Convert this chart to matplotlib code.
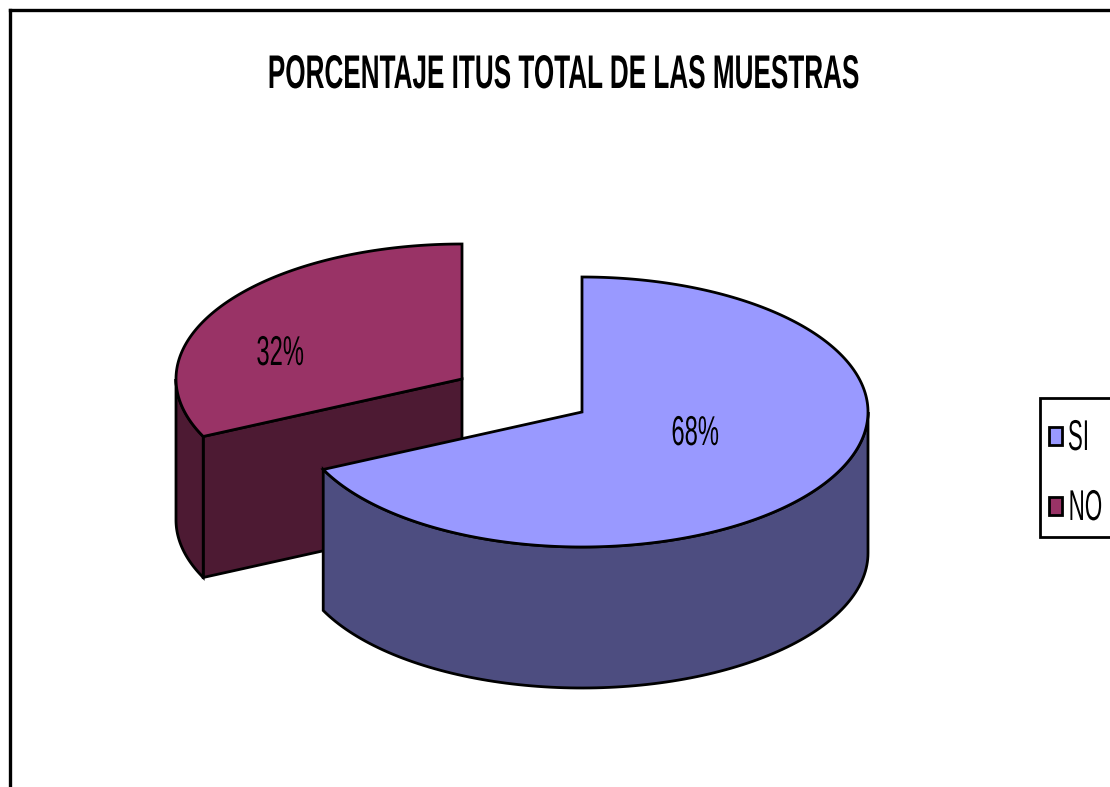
import numpy as np
import matplotlib
matplotlib.use("Agg")
import matplotlib.pyplot as plt
from matplotlib.patches import Polygon, Rectangle
from matplotlib.patheffects import AbstractPathEffect
from matplotlib.text import Text
from matplotlib.transforms import Affine2D

plt.rcParams['font.family'] = ['Liberation Sans', 'DejaVu Sans']

title = "PORCENTAJE ITUS TOTAL DE LAS MUESTRAS"
categories = ["SI", "NO"]
values = [68, 32]
top_colors = ["#9999FF", "#993366"]
side_colors = ["#4D4D80", "#4D1A33"]

RX, RY, DEPTH = 286, 135, 141
CENTERS = [(582, 412), (462, 379)]
LABEL_POS = [(695.5, 434), (280.5, 354)]
LEGEND_RIGHT = [1091, 1103]
PIVOT = {"center": 0.5, "right": 1.0}


class Squeeze(AbstractPathEffect):
    """Narrows the glyphs horizontally about a pivot, as in the condensed reference lettering."""
    def __init__(self, sx, frac):
        super().__init__()
        self.sx = sx
        self.frac = frac

    def draw_path(self, renderer, gc, tpath, affine, rgbFace=None):
        p = self.frac * tpath.get_extents().x1
        squeeze = Affine2D().translate(-p, 0).scale(self.sx, 1).translate(p, 0)
        renderer.draw_path(gc, tpath, squeeze + affine, rgbFace)


def narrow_text(x, y, s, sx, ha="center", **kw):
    t = Text(x, y, s, ha=ha, va="center", color="black", **kw)
    t.set_path_effects([Squeeze(sx, PIVOT[ha])])
    ax.add_artist(t)
    return t


fig = plt.figure(figsize=(11.10, 7.87), dpi=100)
ax = fig.add_axes([0, 0, 1, 1])
ax.set_xlim(0, 1110)
ax.set_ylim(787, 0)
ax.axis("off")


def pt(c, t, dz=0):
    return np.c_[c[0] + RX * np.sin(t), c[1] - RY * np.cos(t) + dz]


total = sum(values)
starts = np.cumsum([0] + values[:-1]) / total * 2 * np.pi
ends = np.cumsum(values) / total * 2 * np.pi
lw = 2.0

# far slice first, near slice on top
for i in [1, 0]:
    c = CENTERS[i]
    s, e = starts[i], ends[i]
    z = 1 if i == 1 else 3
    if i == 1:
        ctr = np.array([c])
        face = np.vstack([pt(c, np.array([s])), ctr, ctr + [0, DEPTH], pt(c, np.array([s]), DEPTH)])
        ax.add_patch(Polygon(face, closed=True, fc=side_colors[i], ec="black", lw=lw, zorder=z))
    lo, hi = max(s, np.pi / 2), min(e, 3 * np.pi / 2)
    if hi > lo:
        tt = np.linspace(lo, hi, 120)
        wall = np.vstack([pt(c, tt), pt(c, tt[::-1], DEPTH)])
        ax.add_patch(Polygon(wall, closed=True, fc=side_colors[i], ec="black", lw=lw, zorder=z))
    tt = np.linspace(s, e, 240)
    top = np.vstack([pt(c, tt), [c]])
    ax.add_patch(Polygon(top, closed=True, fc=top_colors[i], ec="black", lw=lw, zorder=z + 0.5))
    narrow_text(*LABEL_POS[i], f"{values[i]}%", 0.57, fontsize=30, zorder=6)

# chart frame
ax.plot([9.5, 9.5], [787, 9.5], color="black", lw=2.4, zorder=7, clip_on=False)
ax.plot([9.5, 1110], [9.5, 9.5], color="black", lw=2.4, zorder=7, clip_on=False)

narrow_text(564, 76, title, 0.553, fontsize=34, fontweight="bold", zorder=7)

# legend
ax.add_patch(Rectangle((1039.5, 397.5), 72, 139, fc="white", ec="black", lw=2, zorder=7))
for name, col, y, xr in zip(categories, top_colors, [436, 506], LEGEND_RIGHT):
    ax.add_patch(Rectangle((1049, y - 9), 13, 18, fc=col, ec="black", lw=2, zorder=8))
    narrow_text(xr, y + 3, name, 0.52, ha="right", fontsize=31, zorder=8)

fig.savefig("out.png", dpi=100)
